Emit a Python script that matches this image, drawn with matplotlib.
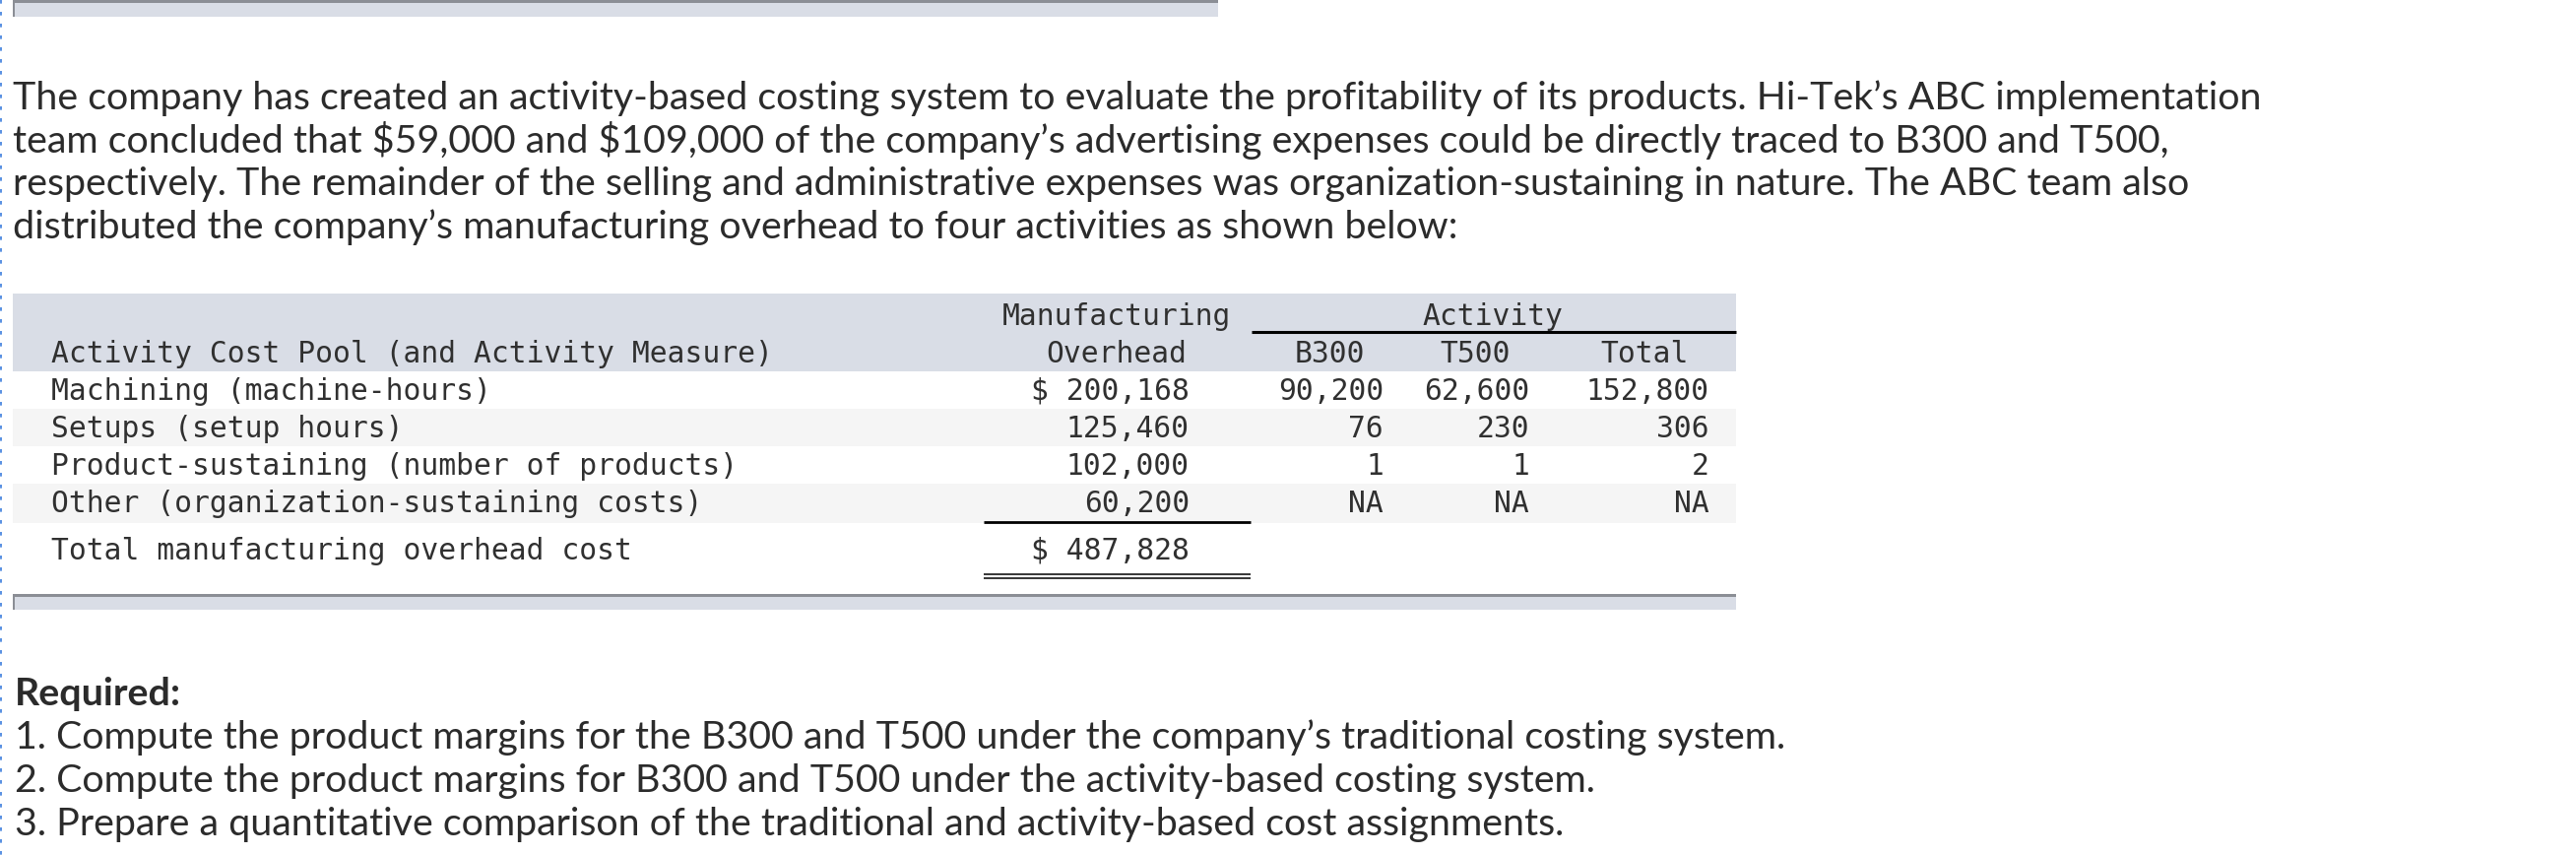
import matplotlib
matplotlib.use("Agg")
import matplotlib.pyplot as plt
from matplotlib.patches import Rectangle

plt.rcParams['text.parse_math'] = False

# text content
intro = [
    "The company has created an activity-based costing system to evaluate the profitability of its products. Hi-Tek\u2019s ABC implementation",
    "team concluded that $59,000 and $109,000 of the company\u2019s advertising expenses could be directly traced to B300 and T500,",
    "respectively. The remainder of the selling and administrative expenses was organization-sustaining in nature. The ABC team also",
    "distributed the company\u2019s manufacturing overhead to four activities as shown below:",
]
required_title = "Required:"
required = [
    "1. Compute the product margins for the B300 and T500 under the company\u2019s traditional costing system.",
    "2. Compute the product margins for B300 and T500 under the activity-based costing system.",
    "3. Prepare a quantitative comparison of the traditional and activity-based cost assignments.",
]

# table data
pools = ["Machining (machine-hours)", "Setups (setup hours)",
         "Product-sustaining (number of products)", "Other (organization-sustaining costs)"]
overhead = [200168, 125460, 102000, 60200]
b300 = ["90,200", "76", "1", "NA"]
t500 = ["62,600", "230", "1", "NA"]
total = ["152,800", "306", "2", "NA"]
total_label = "Total manufacturing overhead cost"

W, H = 2616, 868
fig = plt.figure(figsize=(W / 100, H / 100), dpi=100)
ax = fig.add_axes([0, 0, 1, 1])
ax.set_xlim(0, W)
ax.set_ylim(H, 0)
ax.axis('off')

band = '#d9dde6'
dark = '#8b8e95'
txt = '#2b2b2b'
sans = ['Lato', 'DejaVu Sans']
mono = 'DejaVu Sans Mono'

# left dashed page border
ax.plot([1, 1], [0, H], color='#3b7ddd', lw=1.2, ls=(0, (2.2, 5)))

def bar(x0, x1, y0, y1):
    ax.add_patch(Rectangle((x0, y0), x1 - x0, y1 - y0, color=band, lw=0))
    ax.add_patch(Rectangle((x0, y0), x1 - x0, 3, color=dark, lw=0))
    ax.add_patch(Rectangle((x0, y0), 2, y1 - y0, color=dark, lw=0))

bar(13, 1237, 0, 17)

# fit the paragraph font size to the measured width of the first line
r = fig.canvas.get_renderer()
probe = ax.text(13, 111, intro[0], fontsize=20, family=sans, color=txt)
wpx = probe.get_window_extent(r).width
probe.remove()
fs = 20 * 2287 / wpx

for i, line in enumerate(intro):
    ax.text(13, 111 + i * 43.7, line, fontsize=fs, family=sans, color=txt, va='baseline')

# table background
ax.add_patch(Rectangle((13, 298), 1750, 79, color=band, lw=0))
row_y = [406, 444, 482, 520]
row_top = [377, 415, 453, 491]
row_h = [38, 38, 38, 40]
for i in range(len(pools)):
    if i % 2 == 1:
        ax.add_patch(Rectangle((13, row_top[i]), 1750, row_h[i], color='#f5f5f5', lw=0))

mfs = 21.3
kw = dict(family=mono, fontsize=mfs, color='#303030', va='baseline')
ax.text(1134, 330, "Manufacturing", ha='center', **kw)
ax.text(1134, 368, "Overhead", ha='center', **kw)
ax.text(1516, 330, "Activity", ha='center', **kw)
ax.plot([1271, 1763], [337, 337], color='black', lw=2.2, solid_capstyle='butt')
ax.text(52, 368, "Activity Cost Pool (and Activity Measure)", ha='left', **kw)
ax.text(1350, 368, "B300", ha='center', **kw)
ax.text(1498, 368, "T500", ha='center', **kw)
ax.text(1670, 368, "Total", ha='center', **kw)

for i, name in enumerate(pools):
    y = row_y[i]
    ax.text(52, y, name, ha='left', **kw)
    val = f"{overhead[i]:,}"
    if i == 0:
        val = "$ " + val
    ax.text(1208, y, val, ha='right', **kw)
    ax.text(1405, y, b300[i], ha='right', **kw)
    ax.text(1553, y, t500[i], ha='right', **kw)
    ax.text(1736, y, total[i], ha='right', **kw)

ax.plot([999, 1270], [530, 530], color='black', lw=2.0, solid_capstyle='butt')
ax.text(52, 568, total_label, ha='left', **kw)
ax.text(1208, 568, f"$ {sum(overhead):,}", ha='right', **kw)
ax.plot([999, 1270], [583, 583], color='black', lw=1.1, solid_capstyle='butt')
ax.plot([999, 1270], [587, 587], color='black', lw=1.1, solid_capstyle='butt')

bar(13, 1763, 603, 619)

# required section
ax.text(15, 716, required_title, fontsize=fs, family=sans, weight='bold', color=txt, va='baseline')
for i, line in enumerate(required):
    ax.text(15, 760 + i * 44, line, fontsize=fs, family=sans, color=txt, va='baseline')

fig.savefig("out.png", dpi=100, facecolor='white')
